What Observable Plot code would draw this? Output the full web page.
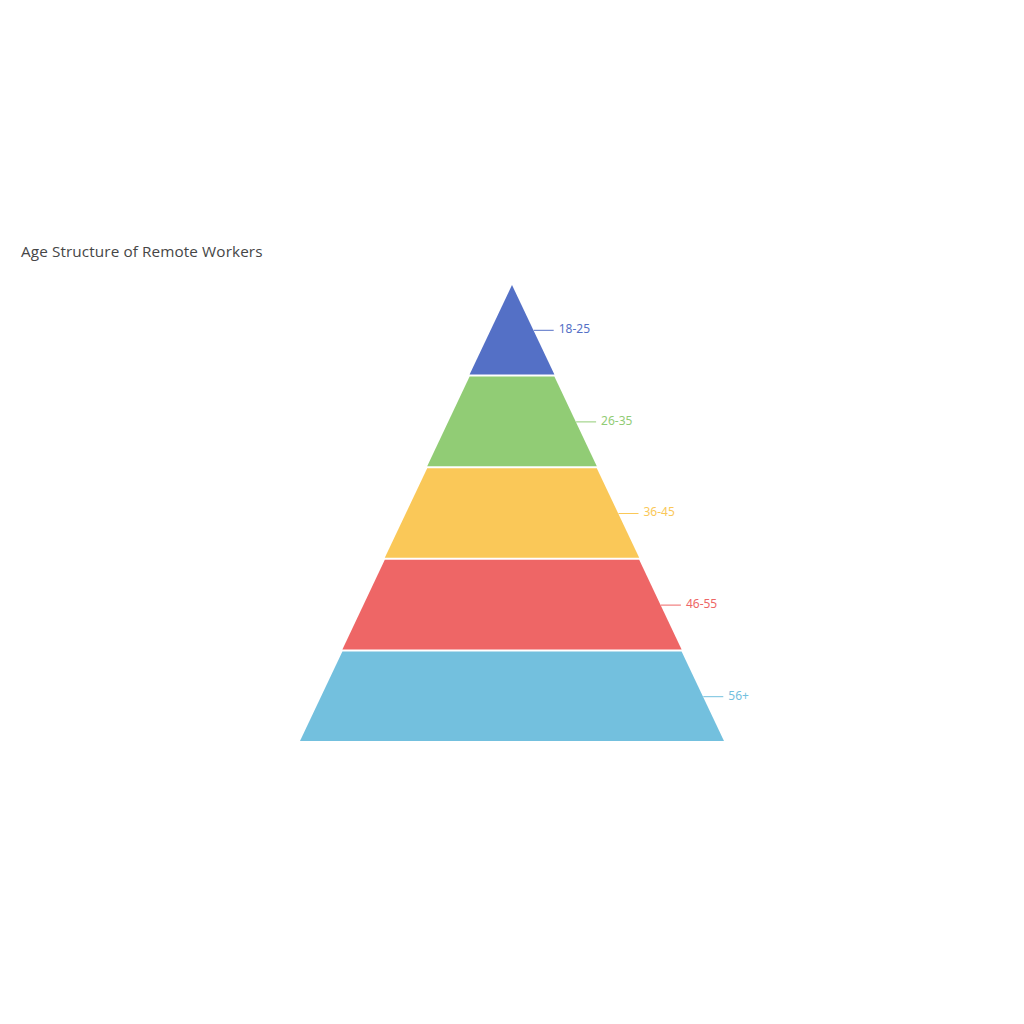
<!DOCTYPE html>
<html>
<head>
<meta charset="utf-8">
<script src="https://cdn.jsdelivr.net/npm/d3@7"></script>
<script src="https://cdn.jsdelivr.net/npm/@observablehq/plot@0.6"></script>
<style>
  html, body { margin: 0; padding: 0; background: #ffffff; }
  #wrap { position: relative; width: 1024px; height: 1024px; overflow: hidden; }
  #title { position: absolute; left: 21px; top: 241px; font-family: "Open Sans", sans-serif; font-size: 15.3px; letter-spacing: 0.1px; color: #464646; white-space: nowrap; }
  #chart { position: absolute; left: 0; top: 270px; }
</style>
</head>
<body>
<div id="wrap">
  <div id="title">Age Structure of Remote Workers</div>
  <div id="chart"></div>
</div>
<script>
// Data (top of pyramid to bottom)
const categories = ["18-25", "26-35", "36-45", "46-55", "56+"];
const values = [20, 40, 60, 80, 100];
const colors = ["#5470c6", "#91cc75", "#fac858", "#ee6666", "#73c0de"];

// layout constants (ECharts-like funnel: min 0, max 100, gap 2)
const gap = 2;
const totalH = 456;
const segH = (totalH - gap * (categories.length - 1)) / categories.length;
const plotW = 1024, plotH = 480;
const marginX = 300;
const pxPerUnit = (plotW - 2 * marginX) / 100;
const lineLenUnits = 20 / pxPerUnit;

// Build polygon points for each segment
const pts = [];
const labels = [];
categories.forEach((c, i) => {
  const top = i * (segH + gap);
  const bot = top + segH;
  const wTop = i === 0 ? 0 : values[i - 1];
  const wBot = values[i];
  pts.push({cat: c, y: top, xl: -wTop / 2, xr: wTop / 2});
  pts.push({cat: c, y: bot, xl: -wBot / 2, xr: wBot / 2});
  const wMid = (wTop + wBot) / 2;
  labels.push({cat: c, y: (top + bot) / 2, x: wMid / 2, color: colors[i]});
});

const chart = Plot.plot({
  width: plotW,
  height: plotH,
  marginLeft: marginX,
  marginRight: marginX,
  marginTop: 15,
  marginBottom: 9,
  x: {domain: [-50, 50], axis: null},
  y: {domain: [0, totalH], axis: null, reverse: true},
  color: {domain: categories, range: colors},
  style: {fontFamily: "'Noto Sans', sans-serif", background: "transparent"},
  marks: [
    Plot.areaX(pts, {y: "y", x1: "xl", x2: "xr", z: "cat", fill: "cat", fillOpacity: 1, curve: "linear"}),
    Plot.link(labels, {x1: "x", x2: d => d.x + lineLenUnits, y1: "y", y2: "y", stroke: "color", strokeWidth: 1}),
    Plot.text(labels, {x: d => d.x + lineLenUnits, y: "y", text: "cat", fill: "color", dx: 5, dy: -1, textAnchor: "start", fontSize: 12})
  ]
});
document.getElementById("chart").appendChild(chart);
</script>
</body>
</html>
